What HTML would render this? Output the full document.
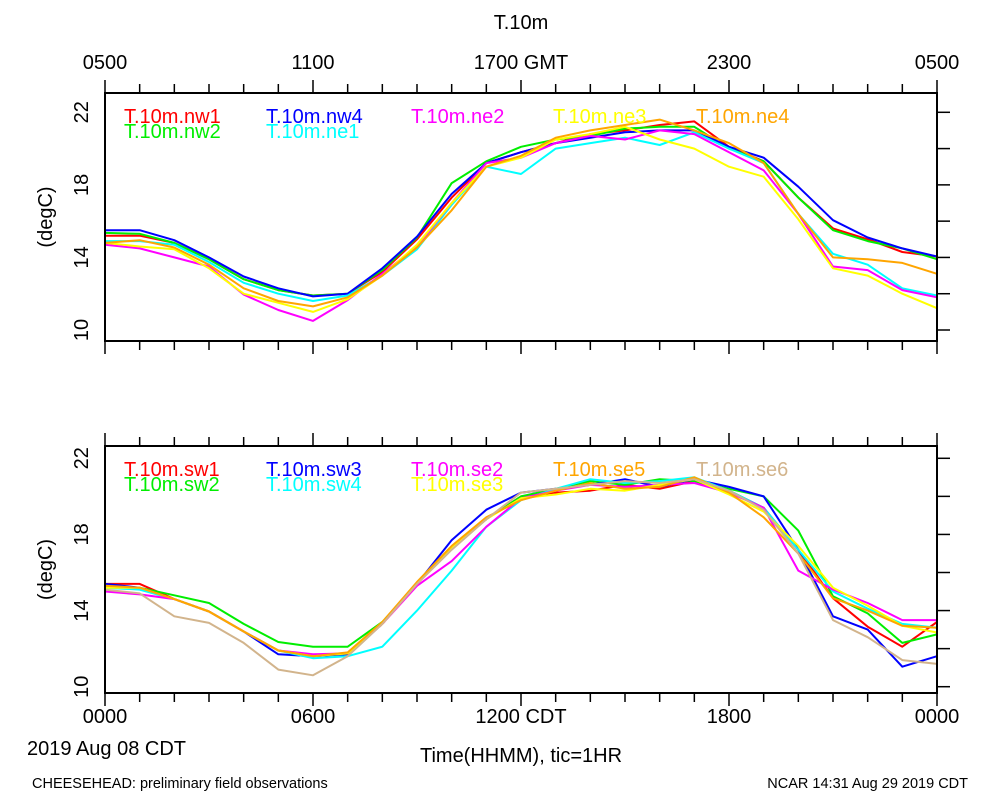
<!DOCTYPE html>
<html><head><meta charset="utf-8"><style>
body{margin:0;background:#fff;}
svg{display:block;font-family:"Liberation Sans",sans-serif;}
</style></head><body>
<svg id="chart" width="1000" height="800" viewBox="0 0 1000 800">
<rect width="1000" height="800" fill="#fff"/>
<text x="521" y="29" font-size="20" text-anchor="middle">T.10m</text>
<g id="gTop"></g>
<g id="gBot"></g>
<text x="27" y="755" font-size="20">2019 Aug 08 CDT</text>
<text x="521" y="762" font-size="20" text-anchor="middle">Time(HHMM), tic=1HR</text>
<text x="32" y="788" font-size="14.5">CHEESEHEAD: preliminary field observations</text>
<text x="968" y="788" font-size="14.5" text-anchor="end">NCAR 14:31 Aug 29 2019 CDT</text>
</svg>
<script>
const hours = [0,1,2,3,4,5,6,7,8,9,10,11,12,13,14,15,16,17,18,19,20,21,22,23,24];
const topNames = ["T.10m.nw1","T.10m.nw2","T.10m.nw4","T.10m.ne1","T.10m.ne2","T.10m.ne3","T.10m.ne4"];
const nw1 = [15.2,15.2,14.8,13.9,12.8,12.2,11.9,12.0,13.2,15.0,17.3,19.2,19.8,20.3,20.8,21.0,21.3,21.5,20.1,19.3,17.3,15.6,15.0,14.3,14.05];
const nw2 = [15.35,15.3,14.8,13.9,12.8,12.2,11.9,12.0,13.3,15.1,18.1,19.3,20.1,20.5,20.7,21.1,21.2,21.2,20.0,19.3,17.3,15.5,14.9,14.5,13.9];
const nw4 = [15.5,15.5,14.95,14.0,12.95,12.3,11.85,12.0,13.4,15.15,17.5,19.2,19.8,20.3,20.6,20.9,21.0,21.0,20.1,19.5,17.9,16.05,15.1,14.5,14.05];
const ne1 = [14.9,14.9,14.7,13.75,12.6,12.0,11.6,11.9,13.0,14.45,16.9,19.0,18.6,20.0,20.3,20.6,20.2,20.9,20.0,19.2,16.4,14.2,13.6,12.3,11.9];
const ne2 = [14.7,14.5,14.0,13.5,11.95,11.1,10.5,11.65,13.1,14.6,17.0,19.2,19.5,20.3,20.7,20.5,21.0,20.8,19.8,18.8,16.4,13.5,13.3,12.2,11.8];
const ne3 = [14.8,14.6,14.45,13.4,12.0,11.5,11.0,11.7,13.0,14.7,17.0,19.0,19.5,20.5,20.8,21.2,20.5,20.0,19.0,18.45,16.1,13.4,13.0,12.0,11.2];
const ne4 = [14.8,14.95,14.55,13.6,12.3,11.6,11.3,11.8,13.0,14.55,16.6,19.0,19.6,20.6,21.0,21.3,21.6,21.0,20.3,19.2,16.4,14.0,13.9,13.7,13.1];
const botNames = ["T.10m.sw1","T.10m.sw2","T.10m.sw3","T.10m.sw4","T.10m.se2","T.10m.se3","T.10m.se5","T.10m.se6"];
const sw1 = [15.4,15.4,14.6,13.95,12.9,11.9,11.6,11.75,13.3,15.4,17.3,18.8,20.0,20.2,20.3,20.6,20.4,20.8,20.3,19.4,17.2,14.65,13.15,12.1,13.4];
const sw2 = [15.3,15.2,14.8,14.4,13.3,12.35,12.1,12.1,13.4,15.4,17.3,18.8,20.0,20.4,20.8,20.6,20.9,20.8,20.4,20.0,18.2,14.75,13.85,12.3,12.75];
const sw3 = [15.4,15.2,14.6,13.95,12.9,11.7,11.6,11.7,13.3,15.4,17.7,19.3,20.2,20.4,20.6,20.9,20.5,20.9,20.5,20.0,17.2,13.7,13.0,11.05,11.6];
const sw4 = [15.2,15.1,14.6,13.95,12.9,11.9,11.5,11.6,12.1,14.0,16.1,18.4,19.8,20.4,20.9,20.7,20.8,21.0,20.3,19.4,17.2,15.0,14.1,13.3,13.1];
const se2 = [15.0,14.85,14.6,13.95,12.9,11.9,11.7,11.75,13.3,15.3,16.6,18.4,19.9,20.3,20.6,20.5,20.6,20.7,20.2,19.4,16.1,15.1,14.4,13.5,13.5];
const se3 = [15.2,15.2,14.6,13.95,12.9,11.9,11.6,11.75,13.3,15.4,17.3,18.8,19.9,20.1,20.4,20.3,20.6,20.9,20.1,19.2,17.4,15.2,14.25,13.2,12.85];
const se5 = [15.3,15.2,14.6,13.95,12.9,11.9,11.6,11.8,13.4,15.5,17.4,18.9,19.8,20.3,20.7,20.4,20.5,21.0,20.2,18.9,17.0,14.65,14.0,13.2,13.1];
const se6 = [15.1,14.9,13.7,13.35,12.3,10.9,10.6,11.6,13.3,15.4,17.2,18.8,20.2,20.4,20.6,20.8,20.7,20.9,20.3,19.3,17.0,13.5,12.6,11.4,11.2];
const yTickLabels = [10,14,18,22];
const topTimeLabels = ["0500","1100","1700 GMT","2300","0500"];
const botTimeLabels = ["0000","0600","1200 CDT","1800","0000"];

const NS="http://www.w3.org/2000/svg";
function mk(tag, attrs, parent){const e=document.createElementNS(NS,tag);for(const k in attrs)e.setAttribute(k,attrs[k]);parent.appendChild(e);return e;}
const X0=105, X1=937;
function xs(h){return X0+(X1-X0)*h/24;}

function panel(g, top, bottom, y22, y10, series, names, colors, legendPos, timeLabels, showTop){
  const ys=v=>y10+(y22-y10)*(v-10)/12;
  series.forEach((arr,i)=>{
    const d=arr.map((v,j)=>(j?"L":"M")+xs(hours[j]).toFixed(1)+","+ys(v).toFixed(1)).join("");
    const p=mk("path",{d:d,fill:"none",stroke:colors[i],"stroke-width":2,"stroke-linejoin":"round"},g);
    
    
  });
  const fr=mk("rect",{x:X0,y:top,width:X1-X0,height:bottom-top,fill:"none",stroke:"#000","stroke-width":2},g);
  
  
  for(let h=0;h<=24;h++){
    const x=xs(h), L=(h%6===0)?13:9;
    const t1=mk("line",{x1:x,x2:x,y1:top,y2:top-L,stroke:"#000","stroke-width":1.5},g);
    
    
    const t2=mk("line",{x1:x,x2:x,y1:bottom,y2:bottom+L,stroke:"#000","stroke-width":1.5},g);
    
    
  }
  for(let v=10;v<=22;v+=2){
    const y=ys(v);
    const t=mk("line",{x1:X1,x2:X1+13,y1:y,y2:y,stroke:"#000","stroke-width":1.5},g);
    
    
  }
  yTickLabels.forEach(v=>{
    const y=ys(v);
    const t=mk("text",{x:0,y:0,"font-size":20,"text-anchor":"middle",transform:"translate(88,"+y+") rotate(-90)"},g);
    t.textContent=v;
    
    
  });
  const yt=mk("text",{x:0,y:0,"font-size":20,"text-anchor":"middle",transform:"translate(52,"+((top+bottom)/2)+") rotate(-90)"},g);
  yt.textContent="(degC)";
  
  
  timeLabels.forEach((s,i)=>{
    const y= showTop ? top-24 : bottom+30;
    const t=mk("text",{x:xs(i*6),y:y,"font-size":20,"text-anchor":"middle"},g);
    t.textContent=s;
    
    
  });
  names.forEach((n,i)=>{
    const t=mk("text",{x:legendPos[i][0],y:legendPos[i][1],"font-size":20,fill:colors[i]},g);
    t.textContent=n;
    
    
  });
}
panel(document.getElementById("gTop"),93,341,112.3,330,
  [nw1,nw2,nw4,ne1,ne2,ne3,ne4],topNames,
  ["#ff0000","#00ee00","#0000ff","#00ffff","#ff00ff","#ffff00","#ffa500"],
  [[124,123],[124,138],[266,123],[266,138],[411,123],[553,123],[696,123]],topTimeLabels,true);
panel(document.getElementById("gBot"),446,693,458.3,686.7,
  [sw1,sw2,sw3,sw4,se2,se3,se5,se6],botNames,
  ["#ff0000","#00ee00","#0000ff","#00ffff","#ff00ff","#ffff00","#ffa500","#d2b48c"],
  [[124,476],[124,491],[266,476],[266,491],[411,476],[411,491],[553,476],[696,476]],botTimeLabels,false);
</script>
</body></html>
